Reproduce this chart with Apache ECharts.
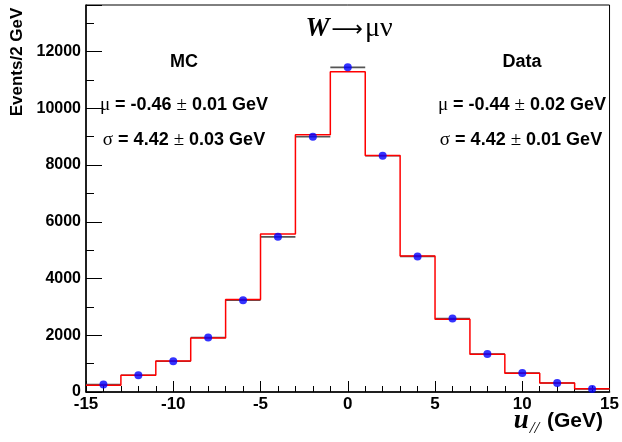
<!DOCTYPE html>
<html>
<head>
<meta charset="utf-8">
<script src="https://cdn.jsdelivr.net/npm/echarts@6/dist/echarts.min.js"></script>
<style>html,body{margin:0;padding:0;background:#fff;}#c{width:622px;height:442px;}</style>
</head>
<body>
<div id="c"></div>
<script>
// Bin centres (GeV), bin width 2 GeV
var binCenters = [-14, -12, -10, -8, -6, -4, -2, 0, 2, 4, 6, 8, 10, 12, 14];
// Data (blue points)
var dataValues = [261, 589, 1083, 1919, 3235, 5468, 8995, 11442, 8325, 4780, 2588, 1341, 671, 318, 106];
// MC histogram (red)
var mcValues = [236, 589, 1094, 1905, 3259, 5573, 9065, 11290, 8335, 4790, 2560, 1329, 660, 318, 118];
var binWidth = 2;
var xTicks = [-15, -10, -5, 0, 5, 10, 15];
var yTicks = [0, 2000, 4000, 6000, 8000, 10000, 12000];

var SANS = '"Liberation Sans", Arial, sans-serif';
var SERIF = '"Liberation Serif", "Times New Roman", serif';

// step points for MC histogram
var mcStep = [];
for (var i = 0; i < binCenters.length; i++) {
  mcStep.push([binCenters[i] - binWidth / 2, mcValues[i]]);
}
mcStep.push([binCenters[binCenters.length - 1] + binWidth / 2, mcValues[mcValues.length - 1]]);

var dataPts = binCenters.map(function (c, i) { return [c, dataValues[i]]; });

var chart = echarts.init(document.getElementById('c'), null, {renderer: 'canvas'});

var rich = {
  s: {fontFamily: SERIF, fontSize: 19, fontWeight: 'normal', color: '#000'},
  b: {fontFamily: SANS, fontSize: 18, fontWeight: 'bold', color: '#000'}
};

function txt(x, y, text) {
  return {type: 'text', z: 100, style: {text: text, x: x, y: y, align: 'center', verticalAlign: 'middle', rich: rich, fill: '#000'}};
}

var option = {
  animation: false,
  backgroundColor: '#fff',
  grid: {left: 86, right: 9, top: 5, bottom: 50, show: true, borderColor: '#000', borderWidth: 1, backgroundColor: 'transparent'},
  xAxis: {
    type: 'value', min: -15, max: 15, interval: 5,
    axisLine: {show: true, onZero: false, lineStyle: {color: '#000', width: 1.5}},
    axisTick: {show: true, inside: true, length: 11, lineStyle: {color: '#000', width: 1}},
    minorTick: {show: true, splitNumber: 5, length: 6, lineStyle: {color: '#000', width: 1}},
    splitLine: {show: false},
    axisLabel: {fontFamily: SANS, fontWeight: 'bold', fontSize: 17, color: '#000', margin: 4,
      formatter: function (v) { return xTicks.indexOf(v) >= 0 ? String(v) : ''; }}
  },
  yAxis: {
    type: 'value', min: 0, max: 13640, interval: 2000,
    axisLine: {show: true, onZero: false, lineStyle: {color: '#000', width: 1.5}},
    axisTick: {show: true, inside: true, length: 16, lineStyle: {color: '#000', width: 1}},
    minorTick: {show: true, splitNumber: 2, length: 8, lineStyle: {color: '#000', width: 1}},
    splitLine: {show: false},
    axisLabel: {fontFamily: SANS, fontWeight: 'bold', fontSize: 16, color: '#000', margin: 5, showMaxLabel: false,
      formatter: function (v) { return yTicks.indexOf(v) >= 0 ? String(v) : ''; }}
  },
  series: [
    {
      type: 'custom', name: 'data-xerr', z: 2,
      data: dataPts,
      renderItem: function (params, api) {
        var c = api.value(0), v = api.value(1);
        var p1 = api.coord([c - binWidth / 2, v]);
        var p2 = api.coord([c + binWidth / 2, v]);
        return {type: 'line', shape: {x1: p1[0], y1: p1[1], x2: p2[0], y2: p2[1]},
          style: {stroke: '#555', lineWidth: 1.6}};
      }
    },
    {
      type: 'line', name: 'MC', step: 'end', data: mcStep, z: 3,
      symbol: 'none', lineStyle: {color: '#ff0000', width: 1.5}
    },
    {
      type: 'scatter', name: 'Data', data: dataPts, z: 4,
      symbol: 'circle', symbolSize: 8, itemStyle: {color: '#0000ff'}
    }
  ],
  graphic: [
    // y-axis title
    {type: 'text', z: 100, rotation: Math.PI / 2, x: 17, y: 62,
      style: {text: 'Events/2 GeV', font: 'bold 17px ' + SANS, fill: '#000', align: 'center', verticalAlign: 'middle'}},
    // x-axis title
    {type: 'text', z: 100, style: {
      text: '{u|u}{sub|//}{g| (GeV)}', x: 603, y: 421, align: 'right', verticalAlign: 'middle',
      rich: {
        u: {fontFamily: SERIF, fontStyle: 'italic', fontWeight: 'bold', fontSize: 27, color: '#000'},
        sub: {fontFamily: SERIF, fontStyle: 'italic', fontSize: 17, color: '#000', padding: [16, 2, 0, 1]},
        g: {fontFamily: SANS, fontWeight: 'bold', fontSize: 21, color: '#000'}
      }}},
    // title
    {type: 'text', z: 100, style: {
      text: '{w|W}{a|\u27f6}{m|\u03bc\u03bd}', x: 349, y: 29, align: 'center', verticalAlign: 'middle',
      rich: {
        w: {fontFamily: SERIF, fontStyle: 'italic', fontWeight: 'bold', fontSize: 27, color: '#000', padding: [0, 2, 0, 0]},
        a: {fontFamily: '"DejaVu Sans", sans-serif', fontSize: 22, color: '#000', padding: [2, 2, 0, 0]},
        m: {fontFamily: SERIF, fontSize: 28, color: '#000'}
      }}},
    txt(184, 62, '{b|MC}'),
    txt(184, 105, '{s|\u03bc}{b| = -0.46 }{s|\u00b1}{b| 0.01 GeV}'),
    txt(184, 140, '{s|\u03c3}{b| = 4.42 }{s|\u00b1}{b| 0.03 GeV}'),
    txt(522, 62, '{b|Data}'),
    txt(522, 105, '{s|\u03bc}{b| = -0.44 }{s|\u00b1}{b| 0.02 GeV}'),
    txt(521, 140, '{s|\u03c3}{b| = 4.42 }{s|\u00b1}{b| 0.01 GeV}')
  ]
};
chart.setOption(option);
</script>
</body>
</html>
